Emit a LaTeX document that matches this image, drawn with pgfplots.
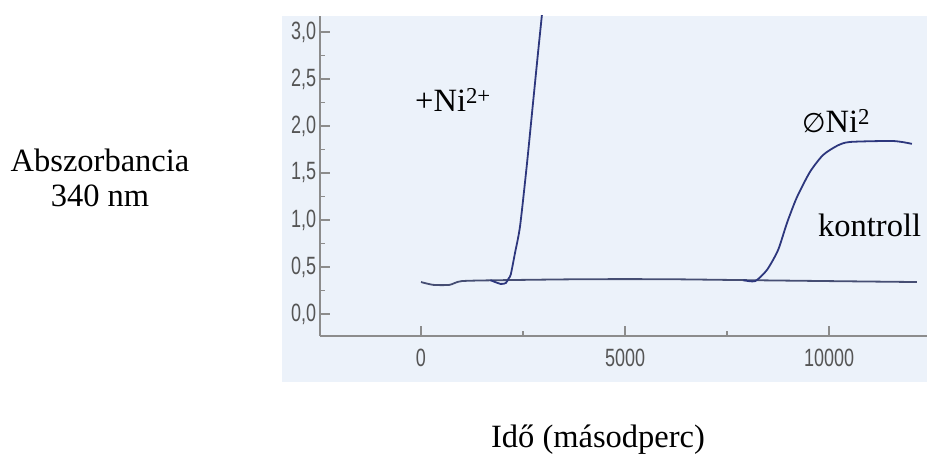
\documentclass[border=0pt]{standalone}
\usepackage{fontspec}
\setmainfont{Liberation Serif}
\newfontfamily\tickfont{Liberation Sans}
\newfontfamily\symfont{DejaVu Sans}
\usepackage{pgfplots}
\pgfplotsset{compat=1.18}

\definecolor{panel}{RGB}{236,242,250}
\definecolor{curve}{RGB}{45,55,125}
\definecolor{basecol}{RGB}{70,78,115}
\definecolor{axisgray}{RGB}{140,140,140}
\definecolor{ticktext}{RGB}{85,85,85}

\begin{document}
\begin{tikzpicture}[font=\fontsize{32.5bp}{37bp}\selectfont]
\path[use as bounding box] (0bp,0bp) rectangle (927bp,465bp);
% scanned panel
\fill[panel] (282bp,83bp) rectangle (927bp,449bp);

\begin{axis}[
    at={(320bp,129bp)}, anchor=south west,
    scale only axis, width=607bp, height=320bp,
    xmin=-2475, xmax=12400, ymin=-0.234, ymax=3.17,
    axis x line=bottom, axis y line=left,
    axis line style={-, draw=axisgray, line width=1.3bp},
    xtick={0,5000,10000}, minor xtick={2500,7500},
    ytick={0,0.5,1,1.5,2,2.5,3},
    minor ytick={0.25,0.75,1.25,1.75,2.25,2.75},
    tick align=inside,
    major tick length=10bp, minor tick length=5bp,
    every tick/.style={draw=axisgray, line width=1.2bp},
    scaled x ticks=false,
    /pgf/number format/assume math mode=true,
    tick label style={font=\tickfont\fontsize{25bp}{25bp}\selectfont, text=ticktext, xscale=0.72},
    xticklabel style={yshift=-10bp, /pgf/number format/fixed,
        /pgf/number format/precision=0, /pgf/number format/1000 sep={}},
    yticklabel style={xshift=-2bp, /pgf/number format/fixed,
        /pgf/number format/fixed zerofill, /pgf/number format/precision=1,
        /pgf/number format/use comma},
]
% kontroll
\addplot[basecol, line width=1.8bp, smooth, tension=0.4] coordinates {
    (0,0.34) (300,0.31) (700,0.31) (1000,0.35) (2000,0.36) (4000,0.37)
    (6000,0.37) (8000,0.36) (10000,0.35) (12150,0.34)
};
% +Ni2+
\addplot[curve, line width=1.8bp, smooth, tension=0.4] coordinates {
    (1700,0.36) (1950,0.32) (2080,0.33) (2150,0.38) (2200,0.42) (2304,0.65)
    (2426,0.93) (2590,1.57) (2753,2.28) (2875,2.81) (2958,3.16) (3000,3.35)
};
% 0Ni2
\addplot[curve, line width=1.8bp, smooth, tension=0.4] coordinates {
    (7900,0.36) (8190,0.35) (8480,0.47) (8750,0.68) (8970,0.97) (9210,1.24)
    (9530,1.51) (9850,1.69) (10200,1.79) (10510,1.83) (11570,1.84) (12030,1.81)
};
\end{axis}

\node[anchor=base] at (100bp,293bp) {Abszorbancia};
\node[anchor=base] at (100bp,258bp) {340 nm};
\node[anchor=base] at (598bp,18bp) {Idő (másodperc)};
\node[anchor=base west, inner sep=0pt] at (415bp,353bp) {+Ni\textsuperscript{2+}};
\node[anchor=base west, inner sep=0pt] at (802bp,332bp) {{\symfont\fontsize{27bp}{30bp}\selectfont ∅}Ni\textsuperscript{2}};
\node[anchor=base west, inner sep=0pt] at (818bp,228bp) {kontroll};
\end{tikzpicture}
\end{document}
